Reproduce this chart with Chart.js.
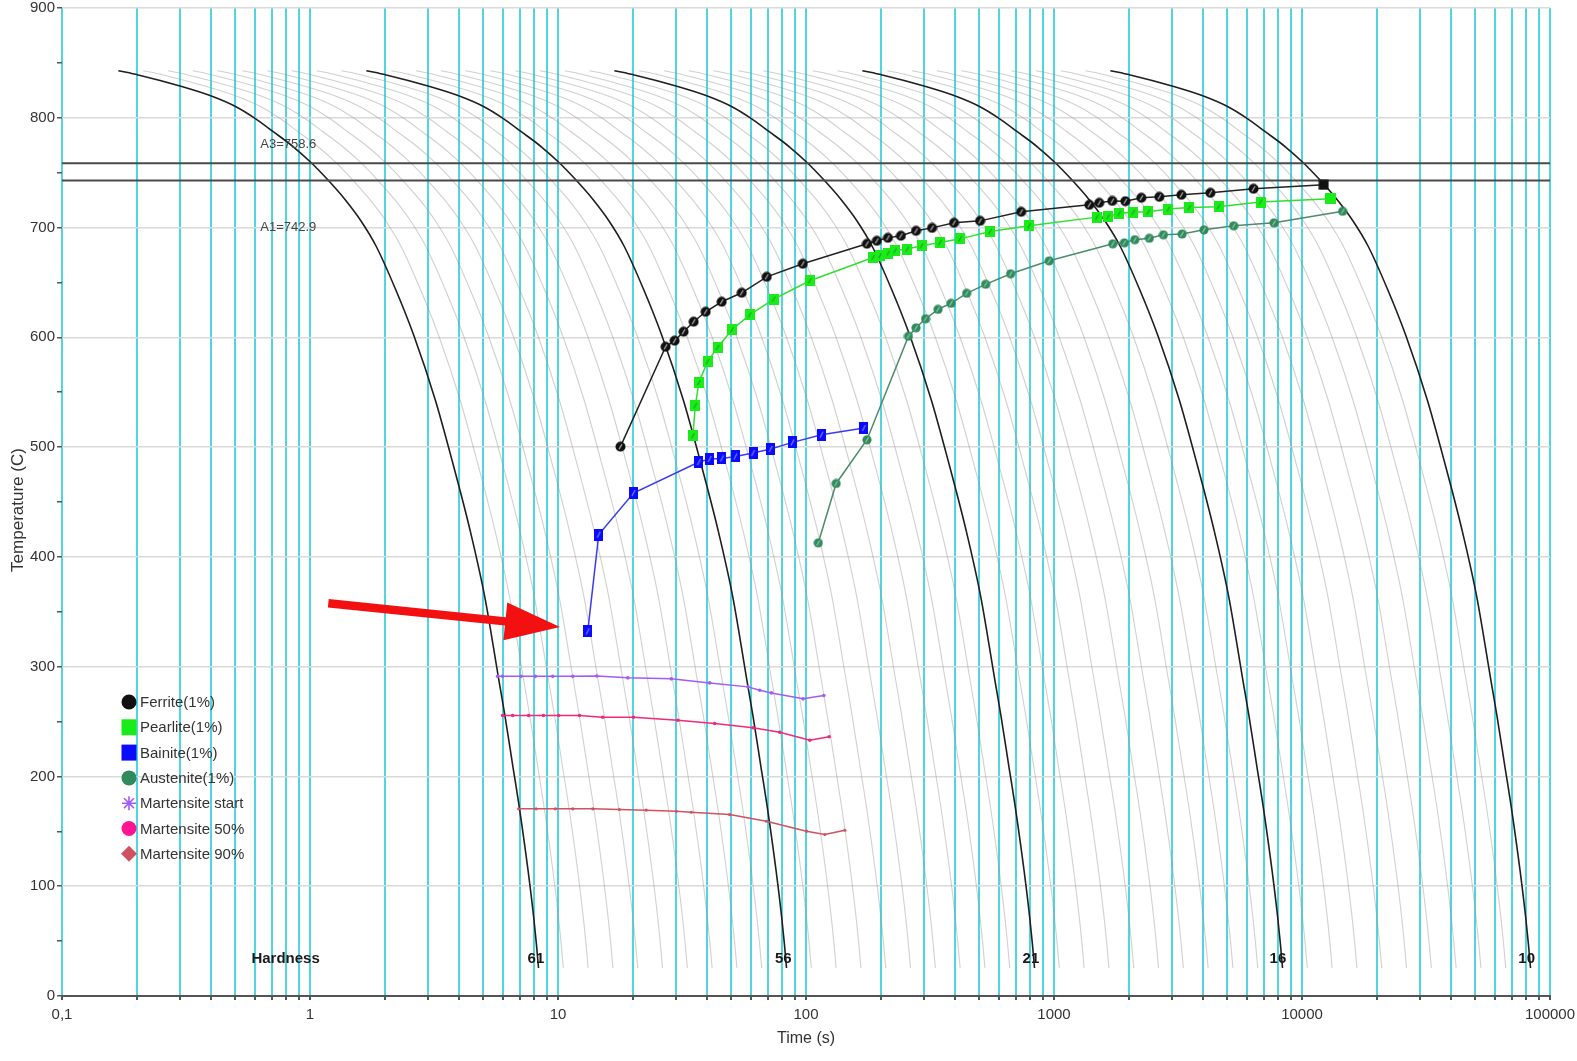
<!DOCTYPE html>
<html><head><meta charset="utf-8">
<script src="https://cdn.jsdelivr.net/npm/chart.js@4.4.1/dist/chart.umd.min.js"></script>
<style>html,body{margin:0;padding:0;background:#fff;}canvas{display:block;}</style>
</head><body>
<canvas id="c" width="1577" height="1061"></canvas>
<script>
// ---------------- DATA ----------------
// axis ticks
const xDecades = [0.1, 1, 10, 100, 1000, 10000, 100000];
const xDecadeLabels = ['0,1', '1', '10', '100', '1000', '10000', '100000'];
const xMinorMultipliers = [2, 3, 4, 5, 6, 7, 8, 9];
const yMin = 0, yMax = 900, yStep = 50, yLabelStep = 100;

// base cooling curve (first black curve, hardness 61): time (s), temperature (C)
const coolTimes = [0.1687, 0.2030, 0.3040, 0.4075, 0.5030, 0.6001, 0.7112, 0.8563, 1.009, 1.182, 1.384, 1.606, 1.846, 2.202, 2.627, 3.201, 3.755, 4.418, 5.077, 5.730, 6.111, 6.555, 7.027, 7.568, 8.001, 8.189, 8.346];
const coolTemps = [842.9, 839.0, 828.5, 819.2, 810.1, 799.5, 787.3, 773.6, 759.3, 743.3, 725.6, 706.0, 683.2, 644.9, 601.2, 542.9, 486.4, 424.5, 362.5, 292.4, 255.1, 211.3, 167.6, 114.8, 69.2, 46.5, 25.5];
// decade shifts of the cooling-curve family (black = labelled, grey = intermediate)
const blackCurveShifts = [0, 1, 2, 3, 4];
const grayCurveShifts = [0.1, 0.2, 0.3, 0.4, 0.5, 0.6, 0.7, 0.8, 0.9,
  1.1, 1.2, 1.3, 1.4, 1.5, 1.6, 1.7, 1.8, 1.9,
  2.1, 2.2, 2.3, 2.4, 2.5, 2.6, 2.7, 2.8, 2.9,
  3.1, 3.2, 3.3, 3.4, 3.5, 3.6, 3.7, 3.8, 3.9];

// hardness labels
const hardnessValues = ['61', '56', '21', '16', '10'];
const hardnessTimes = [8.15, 81, 807, 8000, 80500];
const hardnessTemp = 34;
const hardnessTitleTime = 0.797;

// critical temperatures
const critNames = ['A3=758.6', 'A1=742.9'];
const critTemps = [758.6, 742.9];
const critLabelTime = 0.63;
const critLabelTemps = [776, 700.5];

// phase start curves
const ferriteTime = [17.86, 27.16, 29.52, 32.09, 35.23, 39.39, 45.70, 55.06, 69.44, 97.07, 176.1, 193.1, 213.9, 241.4, 277.7, 322.2, 395.3, 503.4, 737.0, 1388, 1522, 1718, 1939, 2250, 2660, 3263, 4273, 6376, 12224];
const ferriteTemp = [500.4, 591.4, 596.9, 605.1, 614.2, 623.3, 632.4, 640.6, 655.1, 667.0, 685.2, 687.9, 690.6, 692.5, 697.0, 699.7, 704.3, 706.1, 714.3, 720.7, 722.5, 724.3, 724.0, 727.1, 728.0, 729.8, 731.6, 735.3, 738.9];

const pearliteTime = [34.99, 35.78, 37.00, 40.13, 44.04, 50.28, 59.29, 74.12, 103.6, 186.6, 198.7, 214.5, 228.3, 256.1, 292.7, 347.1, 417.9, 552.6, 793.9, 1490, 1655, 1834, 2089, 2402, 2892, 3516, 4606, 6805, 13050];
const pearliteTemp = [510.4, 537.7, 558.9, 578.0, 590.8, 606.9, 620.5, 634.8, 651.5, 672.7, 674.3, 676.7, 678.8, 680.4, 683.4, 686.4, 689.7, 696.4, 701.6, 709.5, 710.0, 713.1, 714.0, 714.3, 716.8, 718.2, 718.9, 723.2, 726.2];

const bainiteTime = [13.18, 14.60, 20.16, 37.00, 40.88, 45.84, 51.91, 61.14, 72.08, 88.22, 115.5, 171.2];
const bainiteTemp = [332.2, 420.3, 458.2, 486.4, 489.2, 489.7, 491.5, 494.6, 498.3, 504.3, 511.3, 517.4];

const austeniteTime = [112.1, 132.3, 176.1, 259.0, 277.7, 303.3, 340.7, 384.5, 444.4, 529.9, 668.5, 956.3, 1726, 1921, 2118, 2424, 2761, 3285, 4024, 5305, 7715, 14590];
const austeniteTemp = [412.8, 466.9, 506.7, 601.0, 608.7, 616.9, 625.5, 631.0, 640.1, 648.3, 657.9, 669.7, 685.2, 686.1, 689.0, 690.3, 693.4, 694.1, 697.9, 701.6, 704.3, 714.8];

const msTime = [5.707, 5.979, 7.096, 8.103, 9.519, 11.47, 14.33, 19.12, 28.63, 40.88, 58.37, 65.08, 72.55, 97.34, 118.0];
const msTemp = [291.2, 291.2, 291.2, 291.2, 291.2, 291.2, 291.5, 289.8, 288.9, 285.2, 281.6, 278.5, 276.1, 270.7, 273.7];

const m50Time = [5.979, 6.563, 7.615, 8.730, 10.06, 12.21, 15.15, 20.16, 30.43, 42.82, 61.14, 78.35, 103.6, 124.0];
const m50Temp = [255.5, 255.5, 255.5, 255.5, 255.5, 255.5, 253.9, 253.9, 251.2, 248.2, 244.3, 240.3, 233.0, 236.1];

const m90Time = [6.939, 8.156, 9.761, 11.47, 13.81, 17.70, 22.69, 29.99, 34.48, 49.22, 69.25, 100.5, 119.1, 143.5];
const m90Temp = [170.5, 170.5, 170.5, 170.5, 170.5, 169.9, 169.3, 168.3, 167.4, 165.3, 159.2, 150.1, 147.1, 151.0];

// annotation arrow (data coordinates: time, temperature)
const arrowTail = [1.185, 357.8];
const arrowTip = [10.19, 336.1];

const legendNames = ['Ferrite(1%)', 'Pearlite(1%)', 'Bainite(1%)', 'Austenite(1%)', 'Martensite start', 'Martensite 50%', 'Martensite 90%'];

// ---------------- STYLE ----------------
const FONT = "'Liberation Sans', Arial, sans-serif";
const TXT = '#333';
const COL = {
  ferrite: '#111111', ferriteLine: '#222222',
  pearlite: '#19ec19', pearliteLine: '#2fe02f',
  bainite: '#0a0aff', bainiteLine: '#3a3af0',
  austenite: '#2f8a5c', austeniteLine: '#4a8c6c',
  ms: '#a25cf5', m50: '#f0287e', m90: '#cf5262'
};

function mk(w, h, draw) { const c = document.createElement('canvas'); c.width = w; c.height = h; draw(c.getContext('2d'), w, h); return c; }
function slash(g, x1, y1, x2, y2, col) { g.strokeStyle = col; g.lineWidth = 1.2; g.beginPath(); g.moveTo(x1, y1); g.lineTo(x2, y2); g.stroke(); }
const ferriteImg = mk(11, 11, g => { g.fillStyle = COL.ferrite; g.beginPath(); g.arc(5.5, 5.5, 5, 0, Math.PI * 2); g.fill(); slash(g, 4, 8, 7, 3, 'rgba(255,255,255,0.7)'); });
const ferriteLastImg = mk(11, 11, g => { g.fillStyle = COL.ferrite; g.fillRect(0.5, 0.5, 10, 10); });
const pearliteImg = mk(10, 11, g => { g.fillStyle = COL.pearlite; g.fillRect(0, 0, 10, 11); slash(g, 3.5, 8, 6.5, 3, 'rgba(40,140,40,0.8)'); });
const pearliteLastImg = mk(11, 11, g => { g.fillStyle = COL.pearlite; g.fillRect(0, 0, 11, 11); });
const bainiteImg = mk(9, 12, g => { g.fillStyle = COL.bainite; g.fillRect(0, 0, 9, 12); slash(g, 3, 9, 6, 3, 'rgba(150,150,255,0.8)'); });
const austeniteImg = mk(10, 10, g => { g.fillStyle = COL.austenite; g.beginPath(); g.arc(5, 5, 4.6, 0, Math.PI * 2); g.fill(); slash(g, 3.5, 7.5, 6.5, 2.5, 'rgba(190,230,200,0.7)'); });

// ---------------- BUILD ----------------
const xTickValues = [];
xDecades.forEach((d, i) => {
  xTickValues.push(d);
  if (i < xDecades.length - 1) xMinorMultipliers.forEach(m => xTickValues.push(d * m));
});
function pts(ts, Ts) { return ts.map((t, i) => ({ x: t, y: Ts[i] })); }
function shifted(dec) { const f = Math.pow(10, dec); return coolTimes.map((t, i) => ({ x: t * f, y: coolTemps[i] })); }

const datasets = [];
datasets.push({ label: legendNames[0], data: pts(ferriteTime, ferriteTemp), showLine: true, borderColor: COL.ferriteLine, borderWidth: 1.5, pointStyle: c => c.dataIndex === ferriteTime.length - 1 ? ferriteLastImg : ferriteImg, pointRadius: 5, order: 1 });
datasets.push({ label: legendNames[1], data: pts(pearliteTime, pearliteTemp), showLine: true, borderColor: COL.pearliteLine, borderWidth: 1.5, pointStyle: c => c.dataIndex === pearliteTime.length - 1 ? pearliteLastImg : pearliteImg, pointRadius: 5, order: 2 });
datasets.push({ label: legendNames[2], data: pts(bainiteTime, bainiteTemp), showLine: true, borderColor: COL.bainiteLine, borderWidth: 1.5, pointStyle: bainiteImg, pointRadius: 5, order: 1 });
datasets.push({ label: legendNames[3], data: pts(austeniteTime, austeniteTemp), showLine: true, borderColor: COL.austeniteLine, borderWidth: 1.5, pointStyle: austeniteImg, pointRadius: 5, order: 2 });
datasets.push({ label: legendNames[4], data: pts(msTime, msTemp), showLine: true, borderColor: COL.ms, backgroundColor: COL.ms, borderWidth: 1.5, pointStyle: 'circle', pointRadius: 1.8, pointBorderWidth: 0, order: 3 });
datasets.push({ label: legendNames[5], data: pts(m50Time, m50Temp), showLine: true, borderColor: COL.m50, backgroundColor: COL.m50, borderWidth: 1.5, pointStyle: 'circle', pointRadius: 1.8, pointBorderWidth: 0, order: 3 });
datasets.push({ label: legendNames[6], data: pts(m90Time, m90Temp), showLine: true, borderColor: COL.m90, backgroundColor: COL.m90, borderWidth: 1.5, pointStyle: 'circle', pointRadius: 1.6, pointBorderWidth: 0, order: 3 });
critTemps.forEach(T => datasets.push({ label: '', data: [{ x: xDecades[0], y: T }, { x: xDecades[xDecades.length - 1], y: T }], showLine: true, borderColor: '#4a4a4a', borderWidth: 2, pointRadius: 0, order: 5 }));
blackCurveShifts.forEach(d => datasets.push({ label: '', data: shifted(d), showLine: true, borderColor: '#1f1f1f', borderWidth: 1.6, pointRadius: 0, cubicInterpolationMode: 'monotone', order: 6 }));
grayCurveShifts.forEach(d => datasets.push({ label: '', data: shifted(d), showLine: true, borderColor: 'rgba(150,150,150,0.45)', borderWidth: 1.1, pointRadius: 0, cubicInterpolationMode: 'monotone', order: 7 }));

// ---------------- OVERLAY PLUGIN ----------------
const overlay = {
  id: 'overlay',
  beforeDraw(chart) {
    const g = chart.ctx; g.save(); g.fillStyle = '#fff'; g.fillRect(0, 0, chart.width, chart.height); g.restore();
  },
  afterDraw(chart) {
    const g = chart.ctx, xs = chart.scales.x, ys = chart.scales.y, ca = chart.chartArea;
    g.save();
    // critical temperature labels
    g.font = '13px ' + FONT; g.fillStyle = '#444'; g.textAlign = 'left'; g.textBaseline = 'middle';
    critNames.forEach((n, i) => g.fillText(n, xs.getPixelForValue(critLabelTime), ys.getPixelForValue(critLabelTemps[i])));
    // hardness labels
    g.font = 'bold 15px ' + FONT; g.fillStyle = '#1a1a1a'; g.textAlign = 'center';
    g.fillText('Hardness', xs.getPixelForValue(hardnessTitleTime), ys.getPixelForValue(hardnessTemp));
    hardnessValues.forEach((h, i) => g.fillText(h, xs.getPixelForValue(hardnessTimes[i]), ys.getPixelForValue(hardnessTemp)));
    // red arrow
    const tx = xs.getPixelForValue(arrowTail[0]), ty = ys.getPixelForValue(arrowTail[1]);
    const hx = xs.getPixelForValue(arrowTip[0]), hy = ys.getPixelForValue(arrowTip[1]);
    const ang = Math.atan2(hy - ty, hx - tx), len = Math.hypot(hx - tx, hy - ty);
    g.translate(tx, ty); g.rotate(ang); g.fillStyle = '#f21010';
    const headL = 55, headW = 19, shaftW = 4.2;
    g.beginPath();
    g.moveTo(0, -shaftW); g.lineTo(len - headL, -shaftW); g.lineTo(len - headL, -headW);
    g.lineTo(len, 0); g.lineTo(len - headL, headW); g.lineTo(len - headL, shaftW); g.lineTo(0, shaftW);
    g.closePath(); g.fill();
    g.setTransform(1, 0, 0, 1, 0, 0);
    // legend
    const lx = 129, ly0 = 702, dy = 25.3;
    g.font = '15px ' + FONT; g.textAlign = 'left'; g.textBaseline = 'middle';
    legendNames.forEach((n, i) => {
      const y = ly0 + i * dy;
      g.fillStyle = TXT; g.fillText(n, 140, y + 1);
      switch (i) {
        case 0: g.fillStyle = COL.ferrite; g.beginPath(); g.arc(lx, y, 7.5, 0, Math.PI * 2); g.fill(); break;
        case 1: g.fillStyle = COL.pearlite; g.fillRect(lx - 7.5, y - 8, 15, 16); break;
        case 2: g.fillStyle = COL.bainite; g.fillRect(lx - 7.5, y - 8, 15, 16); break;
        case 3: g.fillStyle = COL.austenite; g.beginPath(); g.arc(lx, y, 7.5, 0, Math.PI * 2); g.fill(); break;
        case 4: g.strokeStyle = COL.ms; g.lineWidth = 1.6; g.beginPath();
          for (let k = 0; k < 4; k++) { const a = k * Math.PI / 4; g.moveTo(lx - 7 * Math.cos(a), y - 7 * Math.sin(a)); g.lineTo(lx + 7 * Math.cos(a), y + 7 * Math.sin(a)); }
          g.stroke(); break;
        case 5: g.fillStyle = '#ff1493'; g.beginPath(); g.arc(lx, y, 7.5, 0, Math.PI * 2); g.fill(); break;
        case 6: g.fillStyle = COL.m90; g.beginPath(); g.moveTo(lx, y - 8); g.lineTo(lx + 8, y); g.lineTo(lx, y + 8); g.lineTo(lx - 8, y); g.closePath(); g.fill(); break;
      }
    });
    // axis titles
    g.fillStyle = TXT; g.font = '16px ' + FONT; g.textAlign = 'center'; g.textBaseline = 'middle';
    g.fillText('Time (s)', (ca.left + ca.right) / 2, 1039);
    g.translate(18, 510); g.rotate(-Math.PI / 2); g.font = '17px ' + FONT;
    g.fillText('Temperature (C)', 0, 0);
    g.restore();
  }
};

new Chart(document.getElementById('c'), {
  type: 'scatter',
  data: { datasets },
  options: {
    responsive: false, animation: false, devicePixelRatio: 1, events: [],
    layout: { padding: { top: 8, right: 27, left: 0, bottom: 0 } },
    plugins: { legend: { display: false }, tooltip: { enabled: false } },
    scales: {
      x: {
        type: 'logarithmic', min: xDecades[0], max: xDecades[xDecades.length - 1],
        afterBuildTicks(s) { s.ticks = xTickValues.map(v => ({ value: v })); },
        afterFit(s) { s.height = 65; s.paddingLeft = 0; s.paddingRight = 0; },
        ticks: {
          autoSkip: false, maxRotation: 0, minRotation: 0, padding: 6, color: TXT, font: { size: 15, family: FONT },
          callback(v) { const i = xDecades.findIndex(d => Math.abs(d - v) / d < 1e-6); return i >= 0 ? xDecadeLabels[i] : ''; }
        },
        grid: { color: '#4fd6de', lineWidth: 2, tickLength: 4, tickColor: '#555' },
        border: { display: true, color: '#555', width: 2 }
      },
      y: {
        type: 'linear', min: yMin, max: yMax,
        afterFit(s) { s.width = 62; s.paddingTop = 0; s.paddingBottom = 0; },
        ticks: { stepSize: yStep, autoSkip: false, padding: 2, color: TXT, font: { size: 15, family: FONT },
          callback(v) { return v % yLabelStep === 0 ? String(v) : ''; } },
        grid: { color: c => (c.tick && c.tick.value % yLabelStep === 0) ? '#dadada' : 'rgba(0,0,0,0)', lineWidth: 1.5, tickLength: 5, tickColor: '#555' },
        border: { display: false }
      }
    }
  },
  plugins: [overlay]
});
</script>
</body></html>
